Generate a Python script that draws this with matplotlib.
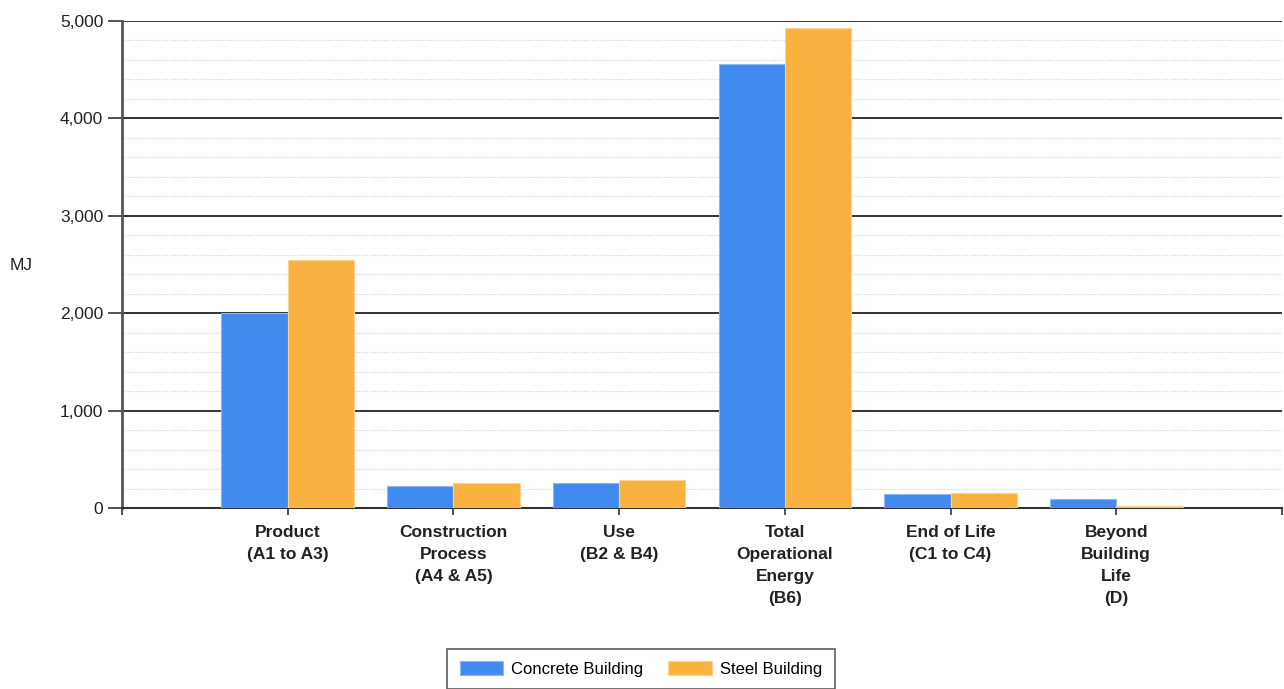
import numpy as np
import matplotlib
matplotlib.use('Agg')
import matplotlib.pyplot as plt
from matplotlib.ticker import MultipleLocator, FuncFormatter
from matplotlib.transforms import offset_copy

plt.rcParams['font.family'] = ['Liberation Sans Narrow', 'Liberation Sans', 'DejaVu Sans']

# 生命周期阶段
stages = ['Product\n(A1 to A3)', 'Construction\nProcess\n(A4 & A5)', 'Use\n(B2 & B4)',
          'Total\nOperational\nEnergy\n(B6)', 'End of Life\n(C1 to C4)',
          'Beyond\nBuilding\nLife\n(D)']
concrete = [2000, 226, 254, 4560, 141, 95]
steel = [2542, 254, 284, 4930, 154, 23]

fig = plt.figure(figsize=(12.84, 6.89), dpi=100)
ax = fig.add_axes([122/1284, 181/689, 1160/1284, 487/689])

x = np.arange(1, len(stages) + 1)
w = 0.4
ax.bar(x - w/2, concrete, w, color='#428bee', edgecolor='#8bb8f5', linewidth=0.8,
       label='Concrete Building', zorder=3)
ax.bar(x + w/2, steel, w, color='#f9b240', edgecolor='#fcd38f', linewidth=0.8,
       label='Steel Building', zorder=3)

ax.set_xlim(0, 7)
ax.set_ylim(0, 5000)

# 网格线
ax.yaxis.set_major_locator(MultipleLocator(1000))
ax.yaxis.set_minor_locator(MultipleLocator(200))
ax.grid(which='major', axis='y', color='#111111', linewidth=1.2, zorder=1)
ax.grid(which='minor', axis='y', color='#d0d0d0', linewidth=0.8, linestyle=(0, (1, 1.5)), zorder=1)
ax.yaxis.set_major_formatter(FuncFormatter(lambda v, p: f'{int(v):,}'))
ax.tick_params(axis='y', which='major', length=10, width=1.2, color='#333333',
               labelsize=12.5, labelcolor='#222222', pad=3.5)
ax.tick_params(axis='y', which='minor', length=0)

# x轴刻度在类别中心，首尾各留一个空位
ax.set_xticks(np.arange(0, 8))
ax.set_xticklabels([])
ax.tick_params(axis='x', length=5, width=1.2, color='#333333')
trans = offset_copy(ax.get_xaxis_transform(), fig=fig, y=-12, units='points')
for xi, name in zip(x, stages):
    ax.text(xi, 0, name, transform=trans, ha='center', va='top', fontsize=12.5,
            fontweight='bold', color='#222222', linespacing=1.6)

for s in ['top', 'right']:
    ax.spines[s].set_visible(False)
ax.spines['left'].set_color('#555555')
ax.spines['left'].set_linewidth(2)
ax.spines['bottom'].set_color('#333333')
ax.spines['bottom'].set_linewidth(1.5)

fig.text(10/1284, 1 - 266/689, 'MJ', fontsize=12.5, color='#222222', va='center', ha='left')

leg = fig.legend(loc='center', bbox_to_anchor=(641/1284, 1 - 669/689), ncol=2,
                 fontsize=12, frameon=True, fancybox=False, edgecolor='#333333',
                 handlelength=2.6, handleheight=0.9, columnspacing=1.5,
                 borderpad=0.75, handletextpad=0.5)
leg.get_frame().set_linewidth(1.2)

fig.savefig('out.png', dpi=100)
